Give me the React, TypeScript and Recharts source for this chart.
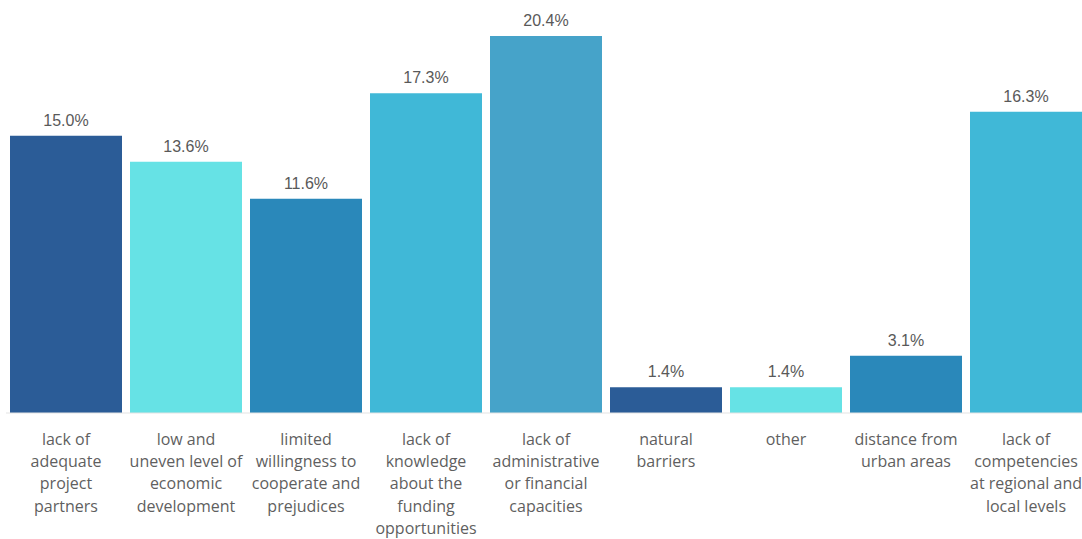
import { BarChart, Bar, XAxis, YAxis, Cell, LabelList } from "recharts";

const categories = [
  "lack of\nadequate\nproject\npartners",
  "low and\nuneven level of\neconomic\ndevelopment",
  "limited\nwillingness to\ncooperate and\nprejudices",
  "lack of\nknowledge\nabout the\nfunding\nopportunities",
  "lack of\nadministrative\nor financial\ncapacities",
  "natural\nbarriers",
  "other",
  "distance from\nurban areas",
  "lack of\ncompetencies\nat regional and\nlocal levels",
];
const shares = [15.0, 13.6, 11.6, 17.3, 20.4, 1.4, 1.4, 3.1, 16.3];
const colors = [
  "#2b5c97",
  "#66e2e5",
  "#2a88ba",
  "#40b8d7",
  "#46a3c9",
  "#2b5c97",
  "#66e2e5",
  "#2a88ba",
  "#40b8d7",
];

const data = categories.map((name, i) => ({ name, value: shares[i] }));

const CategoryTick = ({ x, y, payload }: any) => {
  const lines = String(payload.value).split("\n");
  return (
    <text
      x={x}
      y={y}
      textAnchor="middle"
      fill="#5f5f5f"
      fontFamily="'Open Sans', sans-serif"
      fontSize={16}
    >
      {lines.map((line, i) => (
        <tspan key={i} x={x} dy={i === 0 ? 30 : 22.2}>
          {line}
        </tspan>
      ))}
    </text>
  );
};

export default function App() {
  return (
    <div style={{ position: "fixed", left: 0, top: 0, width: 1082, height: 539, overflow: "hidden", background: "#fff" }}>
      <BarChart
        width={1090}
        height={539}
        data={data}
        margin={{ top: 25, right: 4, bottom: 0, left: 6 }}
      >
        <XAxis
          dataKey="name"
          interval={0}
          height={126}
          tickLine={false}
          tickSize={0}
          axisLine={{ stroke: "#e3e3e3" }}
          tick={<CategoryTick />}
        />
        <YAxis hide domain={[0, 21]} />
        <Bar dataKey="value" barSize={112} isAnimationActive={false}>
          {data.map((d, i) => (
            <Cell key={d.name} fill={colors[i]} />
          ))}
          <LabelList
            dataKey="value"
            position="top"
            offset={10}
            formatter={(v: any) => `${Number(v).toFixed(1)}%`}
            fill="#595959"
            fontFamily="'Liberation Sans', Arial, sans-serif"
            fontSize={16}
          />
        </Bar>
      </BarChart>
    </div>
  );
}
